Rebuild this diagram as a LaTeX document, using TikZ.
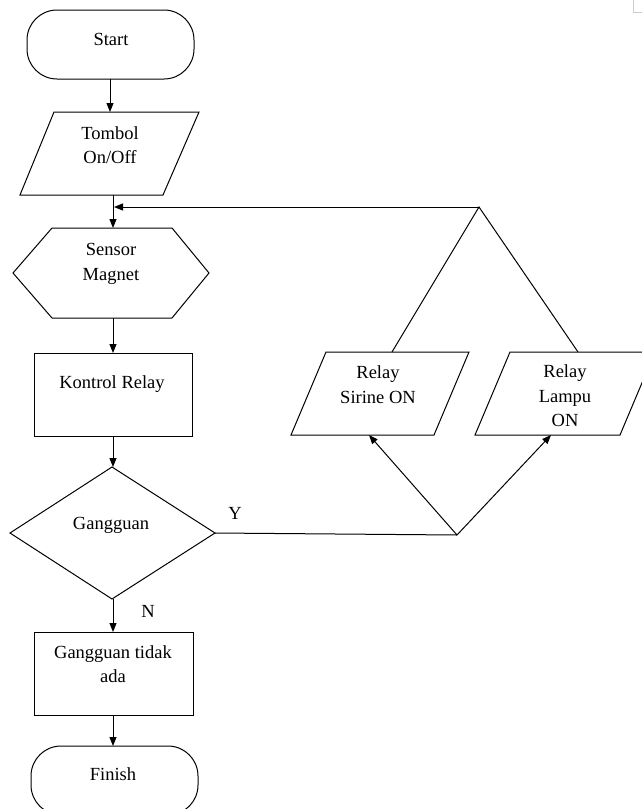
\documentclass[tikz,border=0pt]{standalone}
\usepackage{fontspec}
\setmainfont{Liberation Serif}
\usetikzlibrary{arrows.meta}
\begin{document}
\begin{tikzpicture}[x=1pt,y=-1pt,
  shp/.style={draw=black, line width=1pt},
  txt/.style={font=\fontsize{18.5}{24.5}\selectfont, align=center, inner sep=0pt},
  flow/.style={draw=black, line width=1pt, -{Triangle[length=9pt,width=7pt]}},
  link/.style={draw=black, line width=1pt}]
\useasboundingbox (0,0) rectangle (642,809);
\clip (0,0) rectangle (642,809);

% corner mark
\draw[black!20, line width=1pt] (633,0) -- (633,12) -- (642,12);

% Start
\draw[shp, rounded corners=30pt] (27,10) rectangle (194,79);
\node[txt] (start) at (111,39) {Start};
\coordinate (startB) at (110,79);

% Tombol On/Off
\draw[shp] (54,112) -- (199,112) -- (163,195) -- (20,195) -- cycle;
\node[txt] (tombol) at (110,145) {Tombol\\On/Off};
\coordinate (tombolT) at (110,112);
\coordinate (tombolB) at (113,195);

% Sensor Magnet
\draw[shp] (52,228) -- (172,228) -- (209,273) -- (172,318) -- (52,318) -- (13,273) -- cycle;
\node[txt] (sensor) at (111,264) {Sensor\\Magnet};
\coordinate (sensorT) at (113,228);
\coordinate (sensorB) at (113,318);
\coordinate (sensorJ) at (114,207);

% Kontrol Relay
\draw[shp] (34.5,353.5) rectangle (192.5,436.5);
\node[txt] (kontrol) at (112,384) {Kontrol Relay};
\coordinate (kontrolT) at (113,353);
\coordinate (kontrolB) at (113,436);

% Gangguan decision
\draw[shp] (112,467) -- (215,533) -- (112,599) -- (10,533) -- cycle;
\node[txt] (gangguan) at (111,525) {Gangguan};
\coordinate (gT) at (113,467);
\coordinate (gR) at (215,533);
\coordinate (gB) at (113,599);
\node[txt] (ylab) at (235,513) {Y};
\node[txt] (nlab) at (148,611) {N};

% Gangguan tidak ada
\draw[shp] (34.5,632.5) rectangle (193.5,715.5);
\node[txt] (tidak) at (113,664) {Gangguan tidak\\ada};
\coordinate (tidakT) at (113,632);
\coordinate (tidakB) at (113,715);

% Finish
\draw[shp, rounded corners=30pt] (31,746) rectangle (198,815);
\node[txt] (finish) at (113,774) {Finish};
\coordinate (finishT) at (113,746);

% Relay Sirine ON
\draw[shp] (326,352) -- (469,352) -- (434,435) -- (291,435) -- cycle;
\node[txt] (sirine) at (378,384.5) {Relay\\Sirine ON};
\coordinate (sirineT) at (392,352);
\coordinate (sirineB) at (369,435);

% Relay Lampu ON
\draw[shp] (510,352) -- (655,352) -- (620,435) -- (475,435) -- cycle;
\node[txt] (lampu) at (565,396) {Relay\\Lampu\\ON};
\coordinate (lampuT) at (578,352);
\coordinate (lampuB) at (551,435);

% junction points
\coordinate (apex) at (479,207);
\coordinate (junc) at (457,535);

% connectors
\draw[flow] (startB) -- (tombolT);
\draw[flow] (tombolB) -- (sensorT);
\draw[flow] (sensorB) -- (kontrolT);
\draw[flow] (kontrolB) -- (gT);
\draw[flow] (gB) -- (tidakT);
\draw[flow] (tidakB) -- (finishT);
\draw[link] (gR) -- (junc);
\draw[flow] (junc) -- (sirineB);
\draw[flow] (junc) -- (lampuB);
\draw[link] (sirineT) -- (apex) -- (lampuT);
\draw[flow] (apex) -- (sensorJ);
\end{tikzpicture}
\end{document}
